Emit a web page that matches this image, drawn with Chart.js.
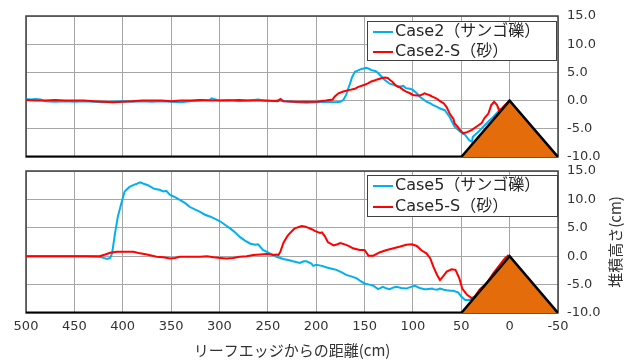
<!DOCTYPE html>
<html>
<head>
<meta charset="utf-8">
<script src="https://cdn.jsdelivr.net/npm/chart.js@4.4.0/dist/chart.umd.min.js"></script>
<style>
  html, body { margin: 0; padding: 0; background: #fff; }
  #wrap { position: relative; width: 630px; height: 361px; }
  #topBox { position: absolute; left: 0; top: 0; width: 630px; height: 165px; }
  #bottomBox { position: absolute; left: 0; top: 163px; width: 630px; height: 198px; }
</style>
</head>
<body>
<div id="wrap">
  <div id="topBox"><canvas id="topChart" width="630" height="165"></canvas></div>
  <div id="bottomBox"><canvas id="bottomChart" width="630" height="198"></canvas></div>
</div>
<script>
// 上段: Case2
var case2X = [500, 495, 490, 485, 480, 470, 460, 450, 440, 430, 420, 410, 400, 390, 380, 370, 360, 350, 340, 330, 320, 310, 308, 300, 290, 280, 270, 260, 250, 240, 230, 220, 210, 200, 190, 180, 175, 172, 169, 167, 165, 163, 160, 157, 155, 151, 148, 145, 143, 140, 138, 135, 132, 130, 127, 124, 120, 117, 113, 110, 107, 103, 100, 96, 93, 89, 86, 82, 79, 75, 72, 67, 62, 57, 51, 46, 42, 39, 38, 32, 27, 22, 17, 12, 8];
var case2Y = [0.3, 0.2, 0.3, 0.2, -0.1, -0.2, -0.1, -0.2, -0.1, -0.2, -0.3, -0.2, -0.1, -0.2, -0.1, -0.2, -0.1, -0.2, -0.3, -0.1, 0.0, 0.1, 0.4, 0.0, 0.1, -0.1, 0.0, 0.2, -0.1, 0.0, -0.1, -0.3, -0.4, -0.3, -0.2, -0.3, -0.2, 0.1, 1.0, 2.1, 3.0, 4.1, 5.1, 5.3, 5.5, 5.7, 5.8, 5.6, 5.4, 5.3, 5.2, 4.7, 4.2, 3.8, 3.4, 3.0, 2.8, 2.6, 2.5, 2.6, 2.2, 2.1, 1.9, 1.3, 0.7, 0.2, -0.2, -0.5, -0.8, -1.1, -1.4, -1.7, -2.9, -4.6, -5.5, -6.1, -7.0, -7.3, -6.4, -5.5, -4.6, -3.7, -2.9, -2.0, -1.5];

var case2sX = [500, 490, 480, 470, 460, 450, 440, 430, 420, 410, 400, 390, 380, 370, 360, 350, 340, 330, 320, 310, 300, 290, 280, 270, 260, 250, 240, 237, 234, 220, 210, 200, 190, 183, 181, 177, 172, 165, 160, 157, 150, 146, 143, 139, 136, 132, 129, 126, 124, 121, 119, 116, 113, 110, 107, 103, 100, 96, 93, 90, 88, 85, 82, 80, 77, 74, 72, 68, 65, 62, 58, 57, 53, 51, 48, 44, 39, 34, 29, 26, 22, 19, 16, 13, 11, 8, 5, 3, 0];
var case2sY = [0.1, 0.0, 0.0, 0.1, 0.0, 0.0, 0.0, -0.1, -0.2, -0.3, -0.2, -0.1, 0.0, 0.0, 0.0, -0.1, 0.0, 0.0, 0.1, 0.0, 0.0, 0.0, 0.1, 0.0, 0.0, 0.0, -0.1, 0.3, -0.1, -0.2, -0.2, -0.2, 0.0, 0.2, 0.7, 1.3, 1.6, 1.9, 2.1, 2.4, 2.8, 3.1, 3.4, 3.6, 3.8, 4.0, 4.1, 4.0, 3.7, 3.3, 2.9, 2.5, 2.3, 1.9, 1.6, 1.3, 1.0, 0.9, 0.9, 1.1, 1.3, 1.1, 0.9, 0.7, 0.5, 0.2, -0.1, -0.5, -1.2, -2.3, -3.3, -4.0, -4.8, -5.3, -5.8, -5.6, -5.2, -4.6, -4.0, -3.1, -2.3, -0.8, -0.2, -0.8, -1.7, -1.4, -0.8, -0.5, 0.1];

// 下段: Case5
var case5X = [500, 480, 460, 440, 424, 420, 416, 413, 411, 408, 405, 401, 398, 393, 388, 386, 382, 379, 374, 368, 365, 362, 358, 355, 351, 346, 341, 335, 331, 325, 320, 315, 310, 305, 299, 294, 289, 284, 279, 274, 268, 263, 260, 255, 248, 244, 241, 234, 228, 224, 217, 213, 210, 205, 203, 200, 194, 189, 184, 179, 173, 169, 163, 158, 154, 150, 145, 141, 136, 131, 127, 124, 120, 117, 112, 107, 102, 98, 93, 88, 86, 80, 79, 75, 72, 68, 65, 61, 58, 53, 50, 46, 41, 36, 31, 26, 20];
var case5Y = [0, 0, 0, 0, -0.1, -0.3, -0.5, -0.3, 0.5, 4.0, 7.0, 9.6, 11.4, 12.2, 12.6, 12.7, 13.0, 12.8, 12.5, 11.9, 11.8, 11.7, 11.4, 11.5, 10.8, 10.4, 9.9, 9.3, 8.7, 8.2, 7.8, 7.3, 7.0, 6.6, 6.1, 5.5, 4.9, 4.2, 3.4, 2.8, 2.2, 2.0, 2.1, 1.1, 0.5, 0.2, -0.1, -0.5, -0.7, -0.9, -1.2, -0.9, -0.9, -1.3, -1.7, -1.5, -1.7, -2.0, -2.2, -2.4, -2.9, -3.3, -3.6, -3.9, -4.4, -4.8, -5.0, -5.2, -5.8, -5.4, -5.7, -5.8, -5.5, -5.4, -5.6, -5.7, -5.4, -5.2, -5.6, -5.8, -5.8, -5.7, -5.8, -5.9, -5.7, -5.9, -6.0, -6.1, -6.1, -6.4, -7.1, -7.7, -7.7, -7.1, -5.9, -5.1, -4.0];

var case5sX = [500, 480, 460, 440, 424, 418, 413, 406, 398, 389, 382, 375, 365, 358, 351, 346, 341, 330, 320, 313, 306, 299, 293, 286, 279, 272, 265, 258, 251, 244, 241, 239, 237, 234, 231, 229, 224, 222, 215, 211, 208, 204, 201, 196, 194, 191, 188, 182, 178, 175, 169, 165, 162, 155, 150, 146, 141, 134, 127, 120, 113, 107, 101, 96, 91, 86, 82, 79, 75, 72, 69, 65, 60, 56, 52, 49, 44, 39, 36, 31, 24, 17, 10, 5, 1];
var case5sY = [0, 0, 0, 0, 0, 0.3, 0.6, 0.8, 0.8, 0.8, 0.5, 0.3, -0.1, -0.2, -0.4, -0.3, -0.1, -0.1, -0.1, 0.0, -0.2, -0.3, -0.4, -0.3, -0.1, 0.0, 0.2, 0.3, 0.4, 0.2, 0.3, 0.2, 0.8, 2.3, 3.2, 3.7, 4.6, 4.9, 5.3, 5.2, 5.0, 4.7, 4.4, 4.1, 4.2, 3.5, 2.5, 1.9, 2.1, 2.3, 2.0, 1.7, 1.4, 1.1, 1.1, 0.1, 0.1, 0.7, 1.1, 1.4, 1.7, 2.0, 2.1, 1.8, 1.0, 0.5, -0.4, -1.8, -3.3, -4.2, -3.6, -2.7, -2.3, -2.4, -3.9, -5.7, -6.8, -7.4, -7.1, -5.9, -4.8, -3.0, -1.5, -0.4, 0.2];

// 地形 (床面とリーフ)
var floorX = [500, 50];
var floorY = [-10, -10];
var reefX = [50, 0, -50];
var reefY = [-10, 0, -10];

var xTicks = [500, 450, 400, 350, 300, 250, 200, 150, 100, 50, 0, -50];
var yTicks = [-10, -5, 0, 5, 10, 15];

Chart.defaults.font.family = "'DejaVu Sans', 'Noto Sans CJK JP', sans-serif";
Chart.defaults.color = '#333';

function toPoints(xs, ys) {
    return xs.map(function (x, i) { return { x: x, y: ys[i] }; });
}

function makeDatasets(names, blueX, blueY, redX, redY) {
    return [{
        label: names[0], data: toPoints(blueX, blueY),
        borderColor: '#00b0f0', borderWidth: 2, pointRadius: 0, order: 2, inLegend: true
    }, {
        label: names[1], data: toPoints(redX, redY),
        borderColor: '#ff0000', borderWidth: 2, pointRadius: 0, order: 1, inLegend: true
    }, {
        label: 'floor', data: toPoints(floorX, floorY),
        borderColor: '#000', borderWidth: 3, pointRadius: 0, order: 0
    }, {
        label: 'reef', data: toPoints(reefX, reefY),
        borderColor: '#000', borderWidth: 2.5, borderJoinStyle: 'miter',
        backgroundColor: '#e46c0a', fill: { value: -10 }, pointRadius: 0, order: 0
    }];
}

// 枠線
var framePlugin = {
    id: 'frame',
    beforeDatasetsDraw: function (chart) {
        var a = chart.chartArea, ctx = chart.ctx;
        ctx.save();
        ctx.strokeStyle = '#404040';
        ctx.lineWidth = 1.5;
        ctx.strokeRect(a.left, a.top, a.right - a.left, a.bottom - a.top);
        ctx.restore();
    }
};

// 枠付き凡例
var boxLegend = {
    id: 'boxLegend',
    afterDatasetsDraw: function (chart, args, opts) {
        var ctx = chart.ctx;
        ctx.save();
        ctx.fillStyle = '#fff';
        ctx.fillRect(opts.left, opts.top, opts.width, opts.height);
        ctx.strokeStyle = '#404040';
        ctx.lineWidth = 1;
        ctx.strokeRect(opts.left + 0.5, opts.top + 0.5, opts.width, opts.height);
        ctx.font = "16px 'DejaVu Sans', 'Noto Sans CJK JP'";
        ctx.textBaseline = 'middle';
        chart.data.datasets.filter(function (d) { return d.inLegend; }).forEach(function (d, i) {
            var y = opts.top + opts.firstRow + i * opts.rowGap;
            ctx.strokeStyle = d.borderColor;
            ctx.lineWidth = 2;
            ctx.beginPath();
            ctx.moveTo(opts.left + 6, y);
            ctx.lineTo(opts.left + 26, y);
            ctx.stroke();
            ctx.fillStyle = '#262626';
            ctx.fillText(d.label, opts.left + 28, y);
        });
        ctx.restore();
    }
};

// 右側の縦書き軸タイトル
var yTitlePlugin = {
    id: 'yTitle',
    afterDraw: function (chart, args, opts) {
        if (!opts.text) return;
        var a = chart.chartArea, ctx = chart.ctx;
        ctx.save();
        ctx.translate(opts.x, (a.top + a.bottom) / 2);
        ctx.rotate(-Math.PI / 2);
        ctx.font = "15px 'Noto Sans CJK JP'";
        ctx.fillStyle = '#333';
        ctx.textAlign = 'center';
        ctx.textBaseline = 'middle';
        ctx.fillText(opts.text, 0, 0);
        ctx.restore();
    }
};

function makeOptions(isBottom, legendBox) {
    return {
        responsive: false,
        animation: false,
        layout: { padding: { left: 26, right: 0, top: isBottom ? 8 : 16, bottom: 0 } },
        plugins: {
            legend: { display: false },
            tooltip: { enabled: false },
            boxLegend: legendBox,
            yTitle: { text: isBottom ? '堆積高さ(cm)' : '', x: 615 }
        },
        scales: {
            x: {
                type: 'linear', reverse: true, min: -50, max: 500,
                afterBuildTicks: function (s) { s.ticks = xTicks.map(function (v) { return { value: v }; }); },
                ticks: { display: isBottom, padding: 6, color: '#333', font: { size: 13 } },
                grid: { drawTicks: false, color: '#a6a6a6' },
                border: { display: false },
                title: {
                    display: isBottom, text: 'リーフエッジからの距離(cm)', color: '#333',
                    font: { family: "'Noto Sans CJK JP'", size: 15 }, padding: { top: 0, bottom: 2 }
                },
                afterFit: function (s) {
                    s.height = isBottom ? 48 : 8;
                    s.paddingLeft = 0;
                    s.paddingRight = 0;
                }
            },
            y: {
                position: 'right', min: -10, max: 15,
                ticks: {
                    stepSize: 2.5, padding: 9, color: '#333', font: { size: 13, lineHeight: 1 },
                    callback: function (v) { return yTicks.indexOf(v) >= 0 ? v.toFixed(1) : ''; }
                },
                grid: {
                    drawTicks: false,
                    color: function (c) { return (c.tick && yTicks.indexOf(c.tick.value) >= 0) ? '#a6a6a6' : '#d9d9d9'; }
                },
                border: { display: false },
                afterFit: function (s) {
                    s.width = 72;
                    // ラベルの余白で描画領域が縮まないようにする
                    s.paddingTop = 0;
                    s.paddingBottom = 0;
                }
            }
        }
    };
}

new Chart(document.getElementById('topChart'), {
    type: 'line',
    data: { datasets: makeDatasets(['Case2（サンゴ礫）', 'Case2-S（砂）'], case2X, case2Y, case2sX, case2sY) },
    options: makeOptions(false, { left: 367, top: 21, width: 189, height: 39, firstRow: 11, rowGap: 20 }),
    plugins: [framePlugin, boxLegend, yTitlePlugin]
});

new Chart(document.getElementById('bottomChart'), {
    type: 'line',
    data: { datasets: makeDatasets(['Case5（サンゴ礫）', 'Case5-S（砂）'], case5X, case5Y, case5sX, case5sY) },
    options: makeOptions(true, { left: 367, top: 12, width: 190, height: 41, firstRow: 11, rowGap: 21 }),
    plugins: [framePlugin, boxLegend, yTitlePlugin]
});
</script>
</body>
</html>
